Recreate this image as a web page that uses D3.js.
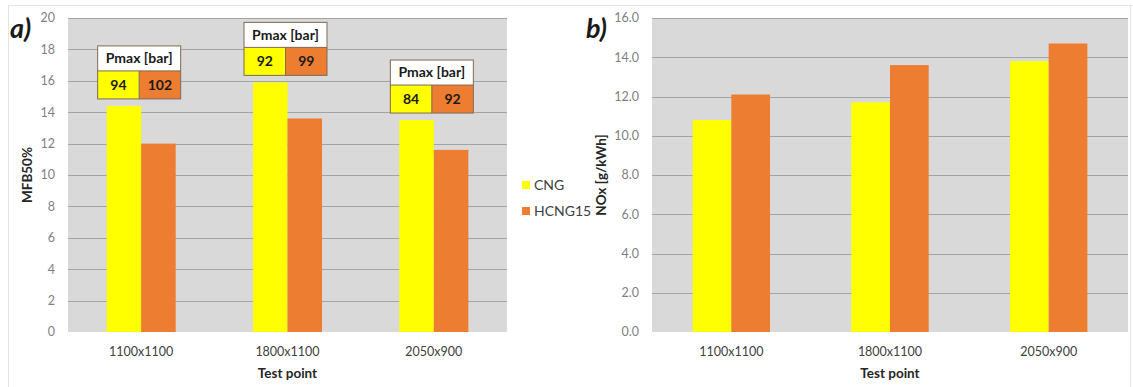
<!DOCTYPE html>
<html>
<head>
<meta charset="utf-8">
<script src="https://cdn.jsdelivr.net/npm/d3@7/dist/d3.min.js"></script>
<style>
  body { margin: 0; background: #fff; }
  svg { display: block; font-family: Lato, "Open Sans", sans-serif; }
</style>
</head>
<body>
<svg id="chart" width="1133" height="387"></svg>
<script>
const categories = ['1100x1100', '1800x1100', '2050x900'];
const seriesNames = ['CNG', 'HCNG15'];
const mfb50Cng = [14.4, 15.9, 13.5];
const mfb50Hcng = [12.0, 13.6, 11.6];
const noxCng = [10.8, 11.7, 13.8];
const noxHcng = [12.1, 13.6, 14.7];
const pmaxCng = [94, 92, 84];
const pmaxHcng = [102, 99, 92];
const mfbTicks = [0, 2, 4, 6, 8, 10, 12, 14, 16, 18, 20];
const noxTicks = [0, 2, 4, 6, 8, 10, 12, 14, 16];

const colors = { CNG: '#ffff00', HCNG15: '#ed7d31' };
const svg = d3.select('#chart');

// faint frame lines, like the pasted excel charts
svg.append('line').attr('x1', 8).attr('x2', 1133).attr('y1', 5.5).attr('y2', 5.5)
  .attr('stroke', '#e4e4e4');
svg.append('line').attr('x1', 8.5).attr('x2', 8.5).attr('y1', 5).attr('y2', 387)
  .attr('stroke', '#e4e4e4');
svg.append('line').attr('x1', 1130.5).attr('x2', 1130.5).attr('y1', 5).attr('y2', 387)
  .attr('stroke', '#e4e4e4');

function drawPanel(opts) {
  const g = svg.append('g');
  const x = d3.scaleBand().domain(categories).range([opts.left, opts.right]);
  const y = d3.scaleLinear().domain([0, opts.max]).range([332, 18]);
  const inner = d3.scaleBand().domain(seriesNames)
    .range([0, x.bandwidth()]).paddingOuter(opts.pad);

  g.append('rect')
    .attr('x', opts.left).attr('y', y(opts.max))
    .attr('width', opts.right - opts.left).attr('height', y(0) - y(opts.max))
    .attr('fill', '#d9d9d9');

  g.selectAll('.grid')
    .data(opts.ticks.filter(d => d > 0))
    .join('line')
    .attr('x1', opts.left).attr('x2', opts.right)
    .attr('y1', d => Math.round(y(d)) + 0.5).attr('y2', d => Math.round(y(d)) + 0.5)
    .attr('stroke', '#a3a3a3').attr('stroke-width', 1.2);

  g.selectAll('.ytick')
    .data(opts.ticks)
    .join('text')
    .attr('x', opts.left - 13).attr('y', d => y(d))
    .attr('dy', '0.35em').attr('text-anchor', 'end')
    .attr('font-size', 12.5).attr('fill', '#7f7f7f')
    .text(d => opts.fmt(d));

  const rows = categories.map((c, i) => ({ c, CNG: opts.a[i], HCNG15: opts.b[i] }));
  const groups = g.selectAll('.grp').data(rows).join('g')
    .attr('transform', d => `translate(${x(d.c)},0)`);
  groups.selectAll('rect')
    .data(d => seriesNames.map(k => ({ k, v: d[k] })))
    .join('rect')
    .attr('x', d => inner(d.k)).attr('width', inner.bandwidth())
    .attr('y', d => y(d.v)).attr('height', d => y(0) - y(d.v))
    .attr('fill', d => colors[d.k]);

  g.selectAll('.xlab').data(categories).join('text')
    .attr('x', d => x(d) + x.bandwidth() / 2).attr('y', 356)
    .attr('text-anchor', 'middle').attr('font-size', 12.5).attr('fill', '#404040')
    .text(d => d);

  g.append('text')
    .attr('x', (opts.left + opts.right) / 2).attr('y', 378)
    .attr('text-anchor', 'middle').attr('font-size', 13.5).attr('font-weight', 'bold')
    .attr('fill', '#262626').text('Test point');

  g.append('text')
    .attr('transform', `translate(${opts.titleX},175) rotate(-90)`)
    .attr('text-anchor', 'middle').attr('font-size', 13.5).attr('font-weight', 'bold')
    .attr('fill', '#262626').text(opts.title);

  g.append('text')
    .attr('x', opts.tagX).attr('y', 38)
    .attr('font-size', 27).attr('font-weight', 'bold').attr('font-style', 'italic')
    .attr('fill', '#1a1a1a').text(opts.tag);

  return { x, y };
}

const left = drawPanel({
  left: 68, right: 507, max: 20, ticks: mfbTicks, pad: 1.12,
  a: mfb50Cng, b: mfb50Hcng, fmt: d => d, title: 'MFB50%', titleX: 32,
  tag: 'a)', tagX: 10
});

drawPanel({
  left: 652, right: 1128, max: 16, ticks: noxTicks, pad: 1.05,
  a: noxCng, b: noxHcng, fmt: d => d.toFixed(1), title: 'NOx [g/kWh]', titleX: 606,
  tag: 'b)', tagX: 586
});

// Pmax boxes above each group of the left panel
const boxW = 83, headH = 25, cellH = 28;
const boxes = svg.append('g').selectAll('g')
  .data(categories.map((c, i) => ({ c, a: pmaxCng[i], b: pmaxHcng[i], top: Math.max(mfb50Cng[i], mfb50Hcng[i]) })))
  .join('g')
  .attr('transform', d => {
    const cx = left.x(d.c) + left.x.bandwidth() / 2 - 2;
    const by = left.y(d.top) - 7;
    return `translate(${cx - boxW / 2},${by - headH - cellH})`;
  });

boxes.append('rect').attr('width', boxW).attr('height', headH).attr('fill', '#fff');
boxes.append('rect').attr('y', headH).attr('width', boxW / 2).attr('height', cellH)
  .attr('fill', colors.CNG);
boxes.append('rect').attr('x', boxW / 2).attr('y', headH).attr('width', boxW / 2).attr('height', cellH)
  .attr('fill', colors.HCNG15);
boxes.append('rect').attr('width', boxW).attr('height', headH + cellH)
  .attr('fill', 'none').attr('stroke', '#7f6a55').attr('stroke-width', 1);
boxes.append('line').attr('x1', 0).attr('x2', boxW).attr('y1', headH).attr('y2', headH)
  .attr('stroke', '#7f6a55');
boxes.append('line').attr('x1', boxW / 2).attr('x2', boxW / 2).attr('y1', headH).attr('y2', headH + cellH)
  .attr('stroke', '#7f6a55');
boxes.append('text').attr('x', boxW / 2).attr('y', headH / 2).attr('dy', '0.35em')
  .attr('text-anchor', 'middle').attr('font-size', 14).attr('font-weight', 'bold')
  .attr('fill', '#1a1a1a').text('Pmax [bar]');
boxes.append('text').attr('x', boxW / 4).attr('y', headH + cellH / 2).attr('dy', '0.35em')
  .attr('text-anchor', 'middle').attr('font-size', 14).attr('font-weight', 'bold')
  .attr('fill', '#1a1a1a').text(d => d.a);
boxes.append('text').attr('x', boxW * 3 / 4).attr('y', headH + cellH / 2).attr('dy', '0.35em')
  .attr('text-anchor', 'middle').attr('font-size', 14).attr('font-weight', 'bold')
  .attr('fill', '#1a1a1a').text(d => d.b);

// legend
const legend = svg.append('g').selectAll('g').data(seriesNames).join('g')
  .attr('transform', (d, i) => `translate(522,${185 + i * 26})`);
legend.append('rect').attr('x', 0).attr('y', -4).attr('width', 8).attr('height', 8)
  .attr('fill', d => colors[d]);
legend.append('text').attr('x', 12).attr('dy', '0.35em')
  .attr('font-size', 14).attr('fill', '#404040').text(d => d);
</script>
</body>
</html>
